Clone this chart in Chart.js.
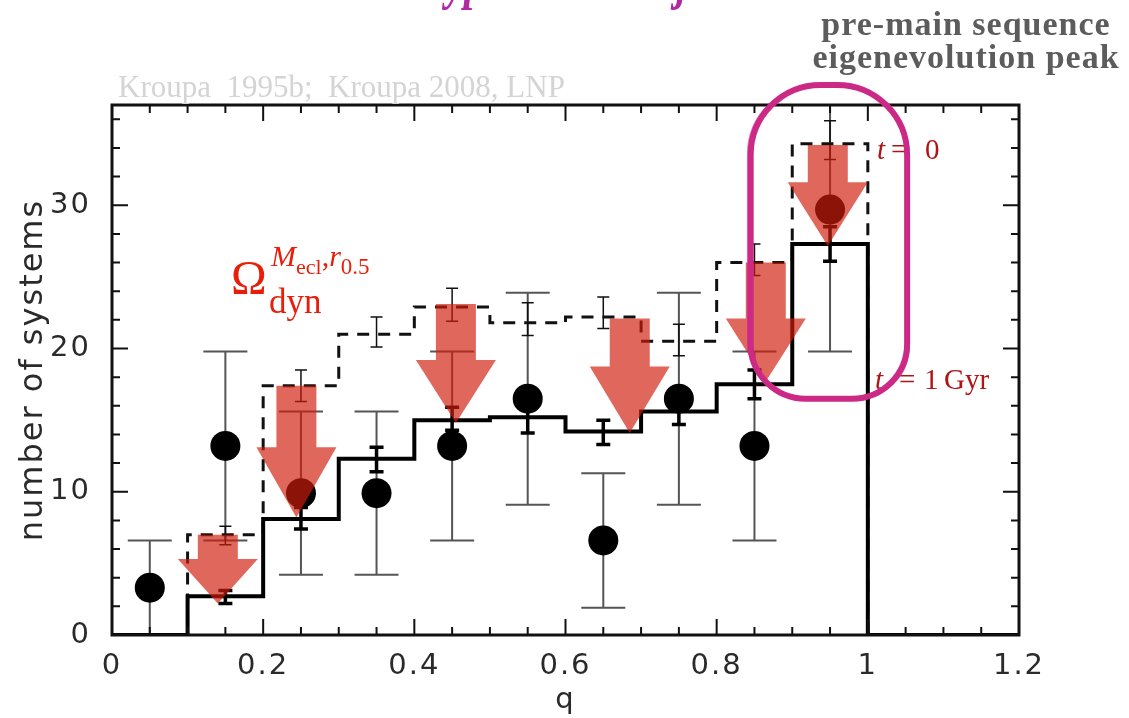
<!DOCTYPE html>
<html>
<head>
<meta charset="utf-8">
<script src="https://cdn.jsdelivr.net/npm/chart.js@4.4.1/dist/chart.umd.min.js"></script>
<style>
  html, body { margin: 0; padding: 0; background: #fff; }
  #wrap { width: 1129px; height: 718px; position: relative; }
</style>
</head>
<body>
<div id="wrap"><canvas id="chart"></canvas></div>
<script>
// q bins (0.1 wide) and their centres
const binEdges = [0, 0.1, 0.2, 0.3, 0.4, 0.5, 0.6, 0.7, 0.8, 0.9, 1.0, 1.1, 1.2];
const binCenters = [0.05, 0.15, 0.25, 0.35, 0.45, 0.55, 0.65, 0.75, 0.85, 0.95];

// model: birth population (t = 0, dashed) and after 1 Gyr (solid)
const histBirth = [0, 7.0, 17.4, 21.0, 22.9, 21.8, 22.2, 20.5, 26.0, 34.3, 0, 0];
const histBirthLo = [0, 6.3, 16.3, 20.1, 21.9, 20.9, 21.4, 19.5, 25.1, 33.2];
const histBirthHi = [0, 7.6, 18.5, 22.2, 24.2, 23.2, 23.6, 21.7, 27.3, 35.9];
const histEvolved = [0, 2.7, 8.1, 12.3, 15.0, 15.2, 14.2, 15.6, 17.5, 27.3, 0, 0];
const histEvolvedLo = [0, 2.2, 7.4, 11.4, 14.3, 14.1, 13.3, 14.7, 16.5, 26.1];
const histEvolvedHi = [0, 3.1, 8.9, 13.1, 15.9, 16.0, 15.0, 16.5, 18.5, 28.5];

// observed systems with error bars
const obsCounts = [3.3, 13.2, 9.9, 9.9, 13.2, 16.5, 6.6, 16.5, 13.2, 29.7];
const obsLo = [0, 6.6, 4.2, 4.2, 6.6, 9.1, 1.9, 9.1, 6.6, 19.8];
const obsHi = [6.6, 19.8, 15.6, 15.6, 19.8, 23.9, 11.3, 23.9, 19.8, 39.6];

// red "depletion" arrows: q position, shaft top, head base, tip
const arrowQ = [0.140, 0.244, 0.455, 0.685, 0.865, 0.947];
const arrowTop = [7.0, 17.4, 23.1, 22.1, 26.0, 34.2];
const arrowHead = [5.3, 13.1, 19.2, 18.75, 22.1, 31.6];
const arrowTip = [2.2, 8.2, 14.8, 14.1, 17.7, 27.15];

const xTicks = [0, 0.2, 0.4, 0.6, 0.8, 1, 1.2];
const yTicks = [0, 10, 20, 30];

const stepData = h => binEdges.map((e, i) => ({ x: e, y: h[Math.min(i, h.length - 1)] }));

const tickFont = { family: 'DejaVu Sans', size: 29 };
const titleFont = { family: 'DejaVu Sans', size: 32 };
const axisColor = '#2a2a2a';

// letter spacing for the axis text
const spacing = {
  id: 'spacing',
  beforeDraw(chart) { chart.ctx.letterSpacing = '2px'; }
};

const errorBars = {
  id: 'errorBars',
  beforeDatasetsDraw(chart) {
    const { ctx, chartArea: a, scales: { x, y } } = chart;
    ctx.save();
    ctx.beginPath();
    ctx.rect(a.left, a.top, a.right - a.left, a.bottom - a.top);
    ctx.clip();
    const bars = (lo, hi, cap, w, color) => {
      ctx.strokeStyle = color;
      ctx.lineWidth = w;
      binCenters.forEach((q, i) => {
        if (lo[i] === hi[i]) return;
        const px = x.getPixelForValue(q);
        const y0 = y.getPixelForValue(lo[i]);
        const y1 = y.getPixelForValue(hi[i]);
        ctx.beginPath();
        ctx.moveTo(px, y0); ctx.lineTo(px, y1);
        ctx.moveTo(px - cap, y0); ctx.lineTo(px + cap, y0);
        ctx.moveTo(px - cap, y1); ctx.lineTo(px + cap, y1);
        ctx.stroke();
      });
    };
    bars(obsLo, obsHi, 22, 2, '#555');
    bars(histBirthLo, histBirthHi, 6, 1.5, '#111');
    bars(histEvolvedLo, histEvolvedHi, 7, 3.5, '#000');
    ctx.restore();
  }
};

const arrows = {
  id: 'arrows',
  afterDatasetsDraw(chart) {
    const { ctx, scales: { x, y } } = chart;
    ctx.save();
    ctx.fillStyle = 'rgba(209, 28, 12, 0.67)';
    arrowQ.forEach((q, i) => {
      const cx = x.getPixelForValue(q);
      const top = y.getPixelForValue(arrowTop[i]);
      const head = y.getPixelForValue(arrowHead[i]);
      const tip = y.getPixelForValue(arrowTip[i]);
      ctx.beginPath();
      ctx.moveTo(cx - 20, top);
      ctx.lineTo(cx + 20, top);
      ctx.lineTo(cx + 20, head);
      ctx.lineTo(cx + 40, head);
      ctx.lineTo(cx, tip);
      ctx.lineTo(cx - 40, head);
      ctx.lineTo(cx - 20, head);
      ctx.closePath();
      ctx.fill();
    });
    ctx.restore();
  }
};

// box with inward ticks on all four sides
const frame = {
  id: 'frame',
  afterDraw(chart) {
    const { ctx, chartArea: a, scales: { x, y } } = chart;
    ctx.save();
    ctx.strokeStyle = '#111';
    ctx.lineWidth = 2;
    ctx.beginPath();
    for (let v = 0; v <= 1.2001; v += 0.05) {
      const px = x.getPixelForValue(v);
      const len = Math.abs(v / 0.2 - Math.round(v / 0.2)) < 1e-6 ? 16 : 8;
      ctx.moveTo(px, a.bottom); ctx.lineTo(px, a.bottom - len);
      ctx.moveTo(px, a.top); ctx.lineTo(px, a.top + len);
    }
    for (let v = 0; v <= 37; v += 2) {
      const py = y.getPixelForValue(v);
      const len = v % 10 === 0 ? 16 : 8;
      ctx.moveTo(a.left, py); ctx.lineTo(a.left + len, py);
      ctx.moveTo(a.right, py); ctx.lineTo(a.right - len, py);
    }
    ctx.stroke();
    ctx.lineWidth = 3;
    ctx.strokeRect(a.left, a.top, a.right - a.left, a.bottom - a.top);
    ctx.restore();
  }
};

// draw text pieces one after another, returns the end x
function run(ctx, pieces, x0) {
  let xx = x0;
  pieces.forEach(([txt, font, dy]) => {
    ctx.font = font;
    ctx.fillText(txt, xx, dy);
    xx += ctx.measureText(txt).width;
  });
  return xx;
}

const notes = {
  id: 'notes',
  afterDraw(chart) {
    const { ctx, scales: { x, y } } = chart;
    ctx.save();
    ctx.letterSpacing = '0px';
    ctx.textBaseline = 'alphabetic';
    ctx.textAlign = 'left';

    // title, cut off by the top edge: only descenders show
    ctx.fillStyle = '#b02aa6';
    ctx.font = 'bold italic 56px "Liberation Serif"';
    const title = 'Hypothesis: major';
    const w0 = ctx.measureText('H').width;
    const w1 = ctx.measureText('Hypothesis: ma').width;
    const s = (676 - 446) / (w1 - w0);
    ctx.fillText(title, 446 - s * w0, -2, s * ctx.measureText(title).width);

    ctx.fillStyle = '#d4d4d4';
    ctx.font = '31px "Liberation Serif"';
    ctx.fillText('Kroupa  1995b;  Kroupa 2008, LNP', 118, 97, 447);

    ctx.fillStyle = '#5c5c5c';
    ctx.font = 'bold 34px "Liberation Serif"';
    ctx.letterSpacing = '1px';
    ctx.textAlign = 'center';
    ctx.fillText('pre-main sequence', 966, 35);
    ctx.fillText('eigenevolution peak', 966, 68);
    ctx.letterSpacing = '0px';
    ctx.textAlign = 'left';

    // Omega label
    ctx.fillStyle = '#e81e0a';
    ctx.font = '48px "Liberation Serif"';
    ctx.fillText('\u03A9', 231, 294);
    run(ctx, [
      ['M', 'italic 30px "Liberation Serif"', 266],
      ['ecl', '22px "Liberation Serif"', 274],
      [',', '30px "Liberation Serif"', 266],
      ['r', 'italic 30px "Liberation Serif"', 266],
      ['0.5', '23px "Liberation Serif"', 274]
    ], 271);
    ctx.font = '35px "Liberation Serif"';
    ctx.fillText('dyn', 269, 313);

    // t labels
    ctx.fillStyle = '#b01414';
    ctx.font = 'italic 29px "Liberation Serif"';
    ctx.fillText('t', 877, 159);
    ctx.fillText('t', 875, 389);
    ctx.font = '29px "Liberation Serif"';
    ctx.fillText('=', 891, 159);
    ctx.fillText('0', 925, 159);
    ctx.fillText('=', 899, 389);
    ctx.fillText('1', 924, 389);
    ctx.fillText('Gyr', 944, 389);

    // hand-drawn loop round the peak
    const l = x.getPixelForValue(0.845), r = x.getPixelForValue(1.052);
    const t = y.getPixelForValue(38.4), b = y.getPixelForValue(16.5);
    ctx.strokeStyle = '#cc2a86';
    ctx.lineWidth = 6;
    ctx.beginPath();
    ctx.roundRect(l, t, r - l, b - t, [70, 70, 55, 55]);
    ctx.stroke();
    ctx.lineWidth = 2.5;
    ctx.globalAlpha = 0.6;
    ctx.beginPath();
    ctx.roundRect(l - 2.5, t + 1, r - l + 4, b - t - 1, [68, 72, 53, 57]);
    ctx.stroke();
    ctx.restore();
  }
};

new Chart(document.getElementById('chart'), {
  type: 'line',
  data: {
    datasets: [
      {
        type: 'scatter',
        data: binCenters.map((q, i) => ({ x: q, y: obsCounts[i] })),
        pointRadius: 15,
        pointBackgroundColor: '#000',
        pointBorderWidth: 0
      },
      {
        data: stepData(histEvolved),
        stepped: true,
        borderColor: '#000',
        borderWidth: 4,
        pointRadius: 0,
        fill: false
      },
      {
        data: stepData(histBirth),
        stepped: true,
        borderColor: '#111',
        borderWidth: 3,
        borderDash: [12, 9],
        pointRadius: 0,
        fill: false
      }
    ]
  },
  options: {
    responsive: true,
    maintainAspectRatio: false,
    animation: false,
    layout: { padding: { top: 105, right: 110, left: 0, bottom: 0 } },
    plugins: { legend: { display: false }, tooltip: { enabled: false } },
    scales: {
      x: {
        type: 'linear', min: 0, max: 1.2,
        afterBuildTicks: s => { s.ticks = xTicks.map(v => ({ value: v })); },
        afterFit: s => { s.height = 83; },
        grid: { display: false },
        border: { display: false },
        ticks: { padding: 6, color: axisColor, font: tickFont, maxRotation: 0, autoSkip: false, callback: v => String(v) },
        title: { display: true, text: 'q', color: axisColor, font: tickFont, padding: { top: 0, bottom: 0 } }
      },
      y: {
        min: 0, max: 37,
        afterBuildTicks: s => { s.ticks = yTicks.map(v => ({ value: v })); },
        afterFit: s => { s.width = 112; },
        grid: { display: false },
        border: { display: false },
        ticks: { padding: 13, color: axisColor, font: tickFont, callback: v => String(v) },
        title: { display: true, text: 'number of systems', color: axisColor, font: titleFont, padding: { top: 14, bottom: 0 } }
      }
    }
  },
  plugins: [spacing, errorBars, arrows, frame, notes]
});
</script>
</body>
</html>
